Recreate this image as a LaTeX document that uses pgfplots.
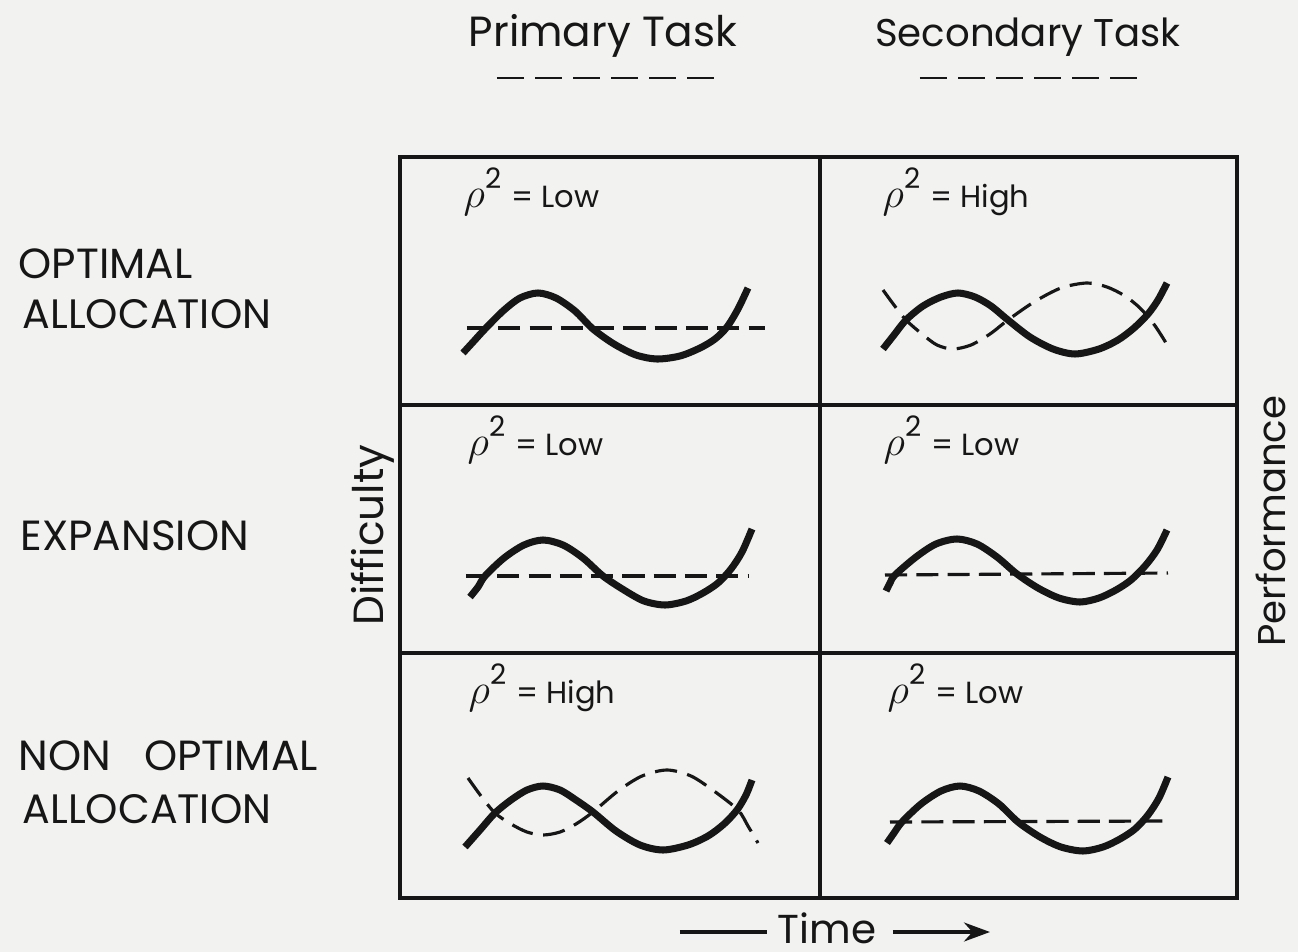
\documentclass[border=0pt]{standalone}
\usepackage{pgfplots}
\pgfplotsset{compat=1.18}
\usetikzlibrary{arrows.meta}
\usepackage{fontspec}
\setmainfont{Poppins}
\definecolor{ink}{RGB}{22,22,22}
\definecolor{paper}{RGB}{242,242,240}
\newcommand{\rlab}[3]{\node[anchor=base west, inner sep=0pt, text=ink] at (axis cs:#1,#2) {{\fontsize{12}{12}\selectfont$\rho$}\raisebox{5.2pt}{\fontsize{8}{8}\selectfont 2}\hspace{1.0mm}{\fontsize{8.7}{9}\selectfont = #3}};}
\begin{document}
\begin{tikzpicture}
\begin{axis}[scale only axis, width=129.8mm, height=95.2mm,
  xmin=0, xmax=1298, ymin=0, ymax=952, y dir=reverse, hide axis, clip=false]
\fill[paper] (axis cs:0,0) rectangle (axis cs:1298,952);
% frame
\draw[ink, line width=1pt] (axis cs:400,157) rectangle (axis cs:1237,898);
\draw[ink, line width=1pt] (axis cs:820,157) -- (axis cs:820,898);
\draw[ink, line width=1pt] (axis cs:400,405) -- (axis cs:1237,405);
\draw[ink, line width=1pt] (axis cs:400,653) -- (axis cs:1237,653);
% headers
\node[anchor=base, inner sep=0pt, text=ink, font=\fontsize{12}{14}\selectfont] at (axis cs:603,47) {Primary Task};
\node[anchor=base, inner sep=0pt, text=ink, font=\fontsize{11}{13}\selectfont] at (axis cs:1028,47) {Secondary Task};
\addplot[ink, line width=0.8pt, dash pattern=on 7.7pt off 3.13pt] coordinates {(497,78) (714,78)};
\addplot[ink, line width=0.8pt, dash pattern=on 7.7pt off 3.13pt] coordinates {(920,78) (1137,78)};
% row labels
\node[anchor=base west, inner sep=0pt, text=ink, font=\fontsize{12}{14}\selectfont] at (axis cs:18,278) {OPTIMAL};
\node[anchor=base west, inner sep=0pt, text=ink, font=\fontsize{11.7}{14}\selectfont] at (axis cs:22,328) {ALLOCATION};
\node[anchor=base west, inner sep=0pt, text=ink, font=\fontsize{12}{14}\selectfont] at (axis cs:20,550) {EXPANSION};
\node[anchor=base west, inner sep=0pt, text=ink, font=\fontsize{12}{14}\selectfont] at (axis cs:18,770) {NON\hspace{3.3mm}OPTIMAL};
\node[anchor=base west, inner sep=0pt, text=ink, font=\fontsize{11.7}{14}\selectfont] at (axis cs:22,823) {ALLOCATION};
% side labels
\node[anchor=base, rotate=90, inner sep=0pt, text=ink, font=\fontsize{12}{14}\selectfont] at (axis cs:384,535) {Difficulty};
\node[anchor=base, rotate=90, inner sep=0pt, text=ink, font=\fontsize{11}{13}\selectfont] at (axis cs:1286,521) {Performance};
% time
\node[anchor=base, inner sep=0pt, text=ink, font=\fontsize{11.5}{12}\selectfont] at (axis cs:827,943) {Time};
\draw[ink, line width=1pt] (axis cs:680,932) -- (axis cs:767,932);
\draw[ink, line width=1pt, -{Stealth[length=2.6mm,width=1.9mm]}] (axis cs:893,932) -- (axis cs:990,932);
% rho labels
\rlab{463}{207}{Low}
\rlab{882}{207}{High}
\rlab{467}{455}{Low}
\rlab{883}{455}{Low}
\rlab{468}{703}{High}
\rlab{887}{703}{Low}
% panel TL
\addplot[ink, line width=0.9pt, dash pattern=on 6.3pt off 2.6pt] coordinates {(467,328) (765,328)};
\addplot[ink, line width=2pt, smooth] coordinates {(463,353) (474,341) (485,329) (503,311) (520,298) (538,293) (556,298) (575,311) (593,329) (614,344) (636,355) (657,359) (680,356) (700,348) (715,339) (727,327) (738,309) (748,288)};
% panel TR
\addplot[ink, line width=0.9pt, smooth, dash pattern=on 6.3pt off 3pt] coordinates {(883,290) (894,305) (906,320) (922,334) (937,345) (953,349) (971,345) (990,334) (1008,320) (1034,302) (1061,288) (1087,283) (1107,287) (1125,296) (1140,308) (1153,323) (1163,338) (1170,350)};
\addplot[ink, line width=2pt, smooth] coordinates {(883,349) (894,335) (906,320) (923,306) (941,297) (958,293) (975,297) (991,306) (1008,320) (1030,337) (1053,349) (1075,354) (1099,349) (1118,340) (1134,328) (1148,314) (1158,300) (1167,283)};
% panel ML
\addplot[ink, line width=0.9pt, dash pattern=on 6.3pt off 2.6pt] coordinates {(466,576) (748,576)};
\addplot[ink, line width=2pt, smooth] coordinates {(470,597) (478,587) (485,576) (504,558) (524,545) (543,540) (563,545) (583,558) (603,576) (624,590) (644,601) (665,605) (686,601) (703,593) (718,583) (731,569) (742,552) (752,529)};
% panel MR
\addplot[ink, line width=0.9pt, dash pattern=on 6.3pt off 2.6pt] coordinates {(885,575) (1168,573)};
\addplot[ink, line width=2pt, smooth] coordinates {(886,591) (890,583) (895,575) (916,557) (936,544) (957,539) (977,544) (997,557) (1017,574) (1038,588) (1059,598) (1080,602) (1099,598) (1116,590) (1131,580) (1145,566) (1157,550) (1167,530)};
% panel BL
\addplot[ink, line width=0.9pt, smooth, dash pattern=on 6.3pt off 3pt] coordinates {(468,778) (481,796) (495,813) (511,824) (527,832) (543,835) (560,832) (576,824) (593,812) (618,791) (642,776) (667,770) (691,776) (714,791) (738,810) (748,826) (758,843)};
\addplot[ink, line width=2pt, smooth] coordinates {(465,847) (480,830) (495,813) (511,800) (527,790) (543,786) (560,790) (576,800) (593,812) (616,831) (640,845) (663,850) (688,845) (708,836) (724,824) (737,810) (746,795) (752,780)};
% panel BR
\addplot[ink, line width=0.9pt, dash pattern=on 6.3pt off 2.6pt] coordinates {(890,822) (1169,821)};
\addplot[ink, line width=2pt, smooth] coordinates {(887,843) (894,833) (902,822) (921,804) (941,791) (960,786) (979,791) (999,804) (1018,822) (1040,837) (1061,847) (1083,851) (1103,847) (1120,839) (1135,829) (1148,815) (1159,798) (1168,777)};
\end{axis}
\end{tikzpicture}
\end{document}
